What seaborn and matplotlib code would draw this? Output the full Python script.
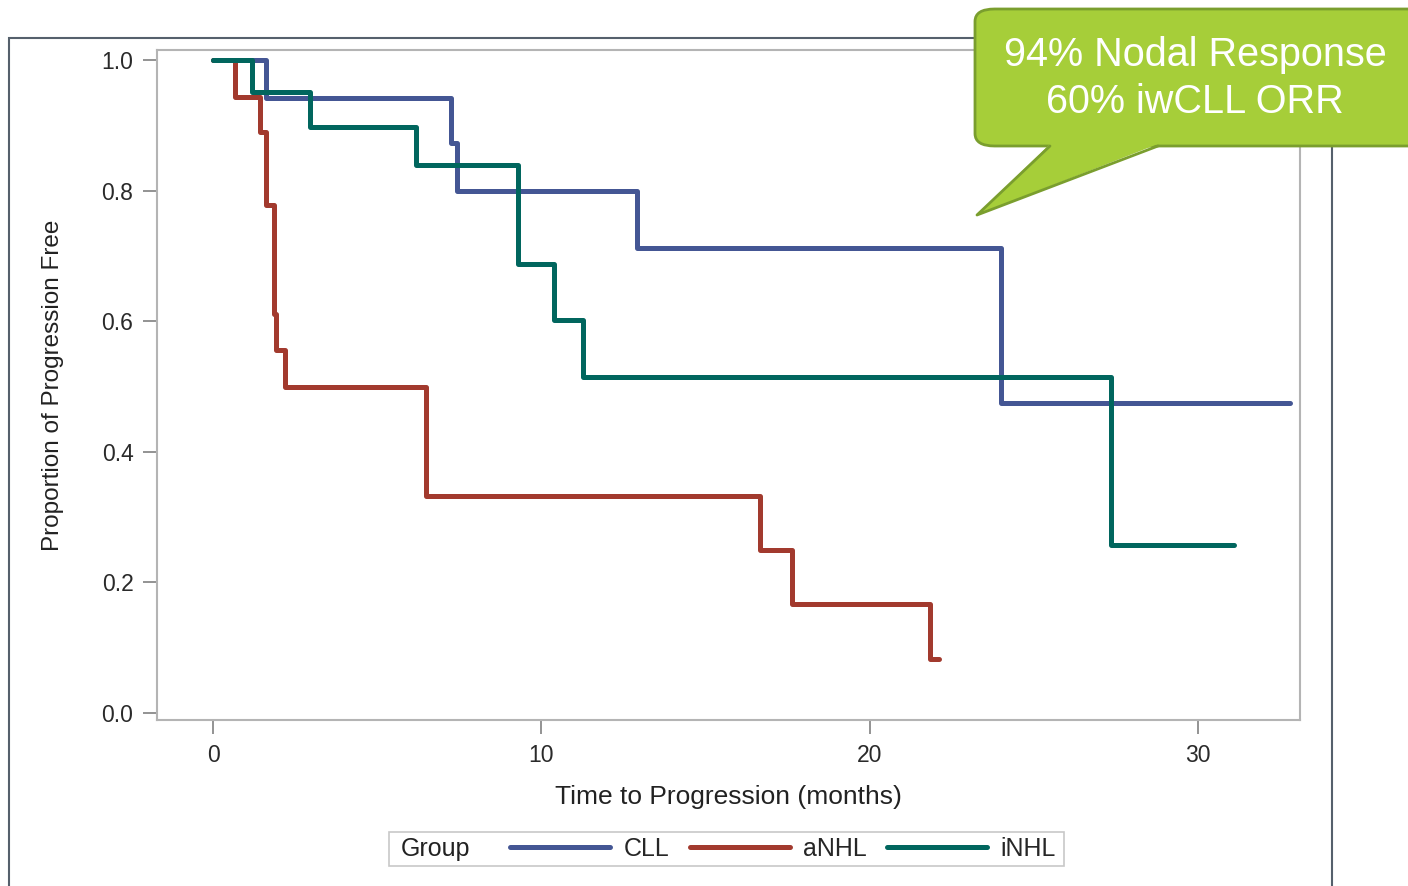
import numpy as np
import pandas as pd
import seaborn as sns
import matplotlib.pyplot as plt
from matplotlib.patches import FancyBboxPatch, Polygon, Rectangle
from matplotlib.lines import Line2D

# Kaplan-Meier step values (time in months, proportion free)
cll_time = [0, 1.6, 7.25, 7.43, 12.9, 24.0, 32.8]
cll_surv = [1.0, 0.942, 0.873, 0.800, 0.712, 0.475, 0.475]

anhl_time = [0, 0.67, 1.43, 1.61, 1.87, 1.93, 2.19, 6.5, 16.65, 17.63, 21.84, 22.1]
anhl_surv = [1.0, 0.944, 0.889, 0.778, 0.611, 0.556, 0.5, 0.333, 0.25, 0.167, 0.083, 0.083]

inhl_time = [0, 1.19, 2.95, 6.18, 9.28, 10.4, 11.27, 27.35, 31.1]
inhl_surv = [1.0, 0.951, 0.897, 0.839, 0.688, 0.602, 0.515, 0.257, 0.257]

groups = ["CLL", "aNHL", "iNHL"]
colors = ["#445694", "#A23A2E", "#01665E"]

callout_lines = ["94% Nodal Response", "60% iwCLL ORR"]

km = pd.concat([
    pd.DataFrame({"time": cll_time, "surv": cll_surv, "group": "CLL"}),
    pd.DataFrame({"time": anhl_time, "surv": anhl_surv, "group": "aNHL"}),
    pd.DataFrame({"time": inhl_time, "surv": inhl_surv, "group": "iNHL"}),
], ignore_index=True)

sns.set_style("white")
plt.rcParams["font.family"] = ["Liberation Sans", "DejaVu Sans"]

W, H = 1408, 886
fig = plt.figure(figsize=(W / 100, H / 100), dpi=100)


def fx(px):
    return px / W


def fy(py):
    return 1 - py / H


# outer frame
fig.patches.append(Rectangle((fx(9), fy(900)), fx(1332) - fx(9), fy(38) - fy(900),
                             transform=fig.transFigure, fill=False,
                             edgecolor="#55606c", linewidth=1.5))

ax = fig.add_axes([fx(157), fy(720), fx(1300) - fx(157), fy(50) - fy(720)])
sns.lineplot(data=km, x="time", y="surv", hue="group", hue_order=groups,
             palette=colors, drawstyle="steps-post", estimator=None, sort=False,
             linewidth=3.6, legend=False, ax=ax)

ax.set_xlim(-1.706, 33.11)
ax.set_ylim(-0.0107, 1.0153)
ax.set_xticks([0, 10, 20, 30])
ax.set_yticks([0.0, 0.2, 0.4, 0.6, 0.8, 1.0])
ax.set_yticklabels(["0.0", "0.2", "0.4", "0.6", "0.8", "1.0"])
for s in ax.spines.values():
    s.set_color("#b4b4b4")
    s.set_linewidth(1.5)
ax.tick_params(axis="both", which="major", direction="out", length=10, width=1.3,
               color="#8a8a8a", labelsize=16.5, labelcolor="#2a2a2a", pad=7,
               bottom=True, left=True)
ax.set_xlabel("Time to Progression (months)", fontsize=19, color="#222222", labelpad=13)
ax.set_ylabel("Proportion of Progression Free", fontsize=17.5, color="#222222", labelpad=27)

# legend: "Group" label followed by the three lines, inside one box
fig.patches.append(Rectangle((fx(389), fy(866)), fx(1064) - fx(389), fy(832) - fy(866),
                             transform=fig.transFigure, fill=False,
                             edgecolor="#c8c8c8", linewidth=1.2))
fig.text(fx(401), fy(849), "Group", fontsize=18, color="#222222", va="center", ha="left")
handles = [Line2D([], [], color=c, linewidth=3.6) for c in colors]
fig.legend(handles, groups, loc="center left", bbox_to_anchor=(fx(510), fy(849)),
           ncol=3, frameon=False, fontsize=18, handlelength=4.0, handletextpad=0.55,
           columnspacing=0.8, borderpad=0, borderaxespad=0)

# green callout bubble
green = "#A6CE39"
edge = "#7A9E2E"
fig.patches.append(FancyBboxPatch((fx(975), fy(146)), fx(1440) - fx(975), fy(9) - fy(146),
                                  boxstyle="round,pad=0,rounding_size=0.014",
                                  transform=fig.transFigure, facecolor=green,
                                  edgecolor=edge, linewidth=2, zorder=5))
tail = [(fx(1050), fy(144)), (fx(977), fy(215)), (fx(1158), fy(144))]
fig.patches.append(Polygon(tail, closed=True, transform=fig.transFigure,
                           facecolor=green, edgecolor="none", zorder=6))
fig.lines.append(Line2D([fx(1050), fx(977), fx(1158)], [fy(146), fy(215), fy(146)],
                        transform=fig.transFigure, color=edge, linewidth=2, zorder=7))
fig.text(fx(1195), fy(55), callout_lines[0], fontsize=28.5, color="white",
         ha="center", va="center", zorder=8)
fig.text(fx(1195), fy(102), callout_lines[1], fontsize=28.5, color="white",
         ha="center", va="center", zorder=8)

fig.savefig("out.png", dpi=100)
